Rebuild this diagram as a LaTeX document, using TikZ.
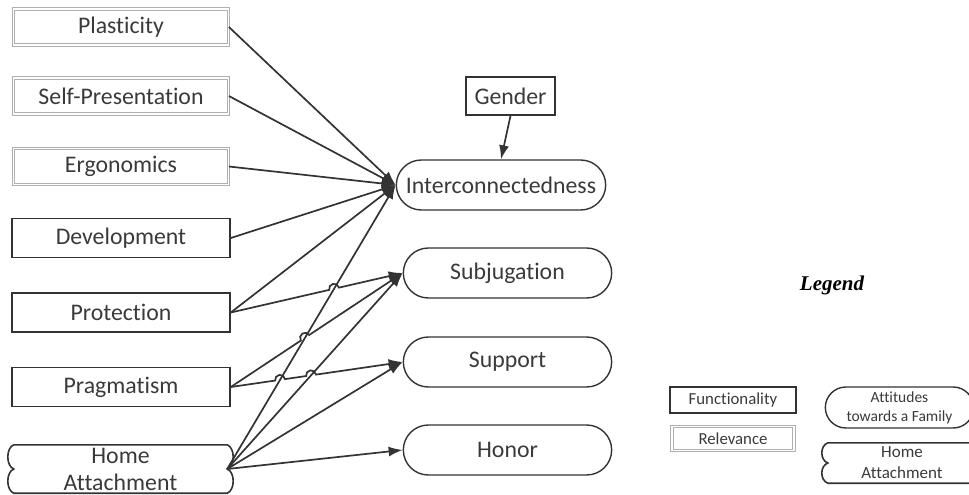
\documentclass[tikz,border=0pt]{standalone}
\usepackage{fontspec}
\setmainfont[Ligatures=NoCommon]{Carlito}
\newfontfamily\legendfont{Liberation Serif}
\usetikzlibrary{arrows.meta,shapes.misc,calc,intersections}
\definecolor{linegray}{HTML}{333333}
\definecolor{textgray}{HTML}{3A3A3A}
\definecolor{relgray}{HTML}{B0B0B0}
% outline of the home attachment shape, drawn round a node
\newcommand{\homeoutline}[1]{%
\draw[linegray, line width=1.6pt] (#1.north west) -- (#1.north east)
 .. controls +(8,3) and +(8,-3) .. (#1.east)
 .. controls +(8,3) and +(8,-3) .. (#1.south east)
 -- (#1.south west)
 .. controls +(-8,-3) and +(-8,3) .. (#1.west)
 .. controls +(-8,-3) and +(-8,3) .. (#1.north west);}
\begin{document}
\begin{tikzpicture}[x=1pt,y=-1pt,>={Latex[length=14pt,width=10pt]},%
every node/.style={text=textgray, font=\fontsize{23.8}{27}\selectfont, align=center},
func/.style={rectangle, draw=linegray, line width=1.6pt,
minimum width=218pt, minimum height=39pt},
relev/.style={rectangle, draw=relgray, double=white, double distance=1.8pt,
line width=0.8pt, minimum width=215pt, minimum height=36pt},
attit/.style={rounded rectangle, draw=linegray, line width=1.4pt,
minimum width=215pt, minimum height=50pt},
homeatt/.style={inner sep=0pt, minimum width=213pt, minimum height=48pt},
conn/.style={->, linegray, line width=1.7pt}]
\useasboundingbox (0,0) rectangle (969,495);
\node (plast) at (121,27) [relev] {Plasticity};
\node (selfPres) at (121,96) [relev] {Self-Presentation};
\node (ergo) at (121,166.5) [relev] {Ergonomics};
\node (devel) at (121,238) [func] {Development};
\node (prot) at (121,312.5) [func] {Protection};
\node (prag) at (121,387) [func] {Pragmatism};
\node (home) at (120.5,469) [homeatt] {Home\\Attachment};
\homeoutline{home}
\node (gender) at (510.5,96) [func, minimum width=89pt, minimum height=38pt] {Gender};
\node (inter) at (501,185) [attit, minimum width=216pt] {Interconnectedness};
\node (subj) at (507.5,273) [attit] {Subjugation};
\node (supp) at (507.5,362) [attit] {Support};
\node (honor) at (507.5,450) [attit] {Honor};
% legend
\node (legend) at (832,285) [font=\legendfont\fontsize{21}{24}\selectfont\bfseries\itshape, text=black] {Legend};
\node (legFunc) at (733,400) [func, line width=1.4pt, minimum width=126pt, minimum height=26pt,
font=\fontsize{16.8}{19}\selectfont] {Functionality};
\node (legRel) at (733,438.5) [relev, minimum width=122pt, minimum height=24pt,
font=\fontsize{16.8}{19}\selectfont] {Relevance};
\node (legAtt) at (899.5,407.5) [attit, minimum width=155pt, minimum height=41pt,
font=\fontsize{15.5}{19}\selectfont] {Attitudes\\towards a Family};
\node (legHome) at (902,463) [homeatt, minimum width=148pt, minimum height=40pt,
font=\fontsize{17}{21}\selectfont] {Home\\Attachment};
\homeoutline{legHome}
% crossings
\path[name path=homeInter] (home.east) -- (inter.west);
\path[name path=homeSubj] (home.east) -- (subj.west);
\path[name path=protSubj] (prot.east) -- (subj.west);
\path[name path=pragSubj] (prag.east) -- (subj.west);
\path[name path=pragSupp] (prag.east) -- (supp.west);
\path[name intersections={of=homeInter and protSubj, by=jA}];
\path[name intersections={of=homeInter and pragSubj, by=jB}];
\path[name intersections={of=homeInter and pragSupp, by=jC}];
\path[name intersections={of=homeSubj and pragSupp, by=jD}];
% connectors
\draw[conn] (plast.east) -- (inter.west);
\draw[conn] (selfPres.east) -- (inter.west);
\draw[conn] (ergo.east) -- (inter.west);
\draw[conn] (devel.east) -- (inter.west);
\draw[conn] (prot.east) -- (inter.west);
\draw[conn] let \p1=($(subj.west)-(prot.east)$), \n1={atan2(\y1,\x1)} in
(prot.east) -- ($(jA)!5pt!(prot.east)$)
arc[start angle=\n1+180, end angle=\n1, radius=5pt] -- (subj.west);
\draw[conn] let \p1=($(subj.west)-(prag.east)$), \n1={atan2(\y1,\x1)} in
(prag.east) -- ($(jB)!5pt!(prag.east)$)
arc[start angle=\n1+180, end angle=\n1, radius=5pt] -- (subj.west);
\draw[conn] let \p1=($(supp.west)-(prag.east)$), \n1={atan2(\y1,\x1)} in
(prag.east) -- ($(jC)!5pt!(prag.east)$)
arc[start angle=\n1+180, end angle=\n1, radius=5pt] -- ($(jD)!5pt!(prag.east)$)
arc[start angle=\n1+180, end angle=\n1, radius=5pt] -- (supp.west);
\draw[conn] (home.east) -- (inter.west);
\draw[conn] (home.east) -- (subj.west);
\draw[conn] (home.east) -- (supp.west);
\draw[conn] (home.east) -- (honor.west);
\draw[conn] (gender.south) -- (inter.north);
\end{tikzpicture}
\end{document}
